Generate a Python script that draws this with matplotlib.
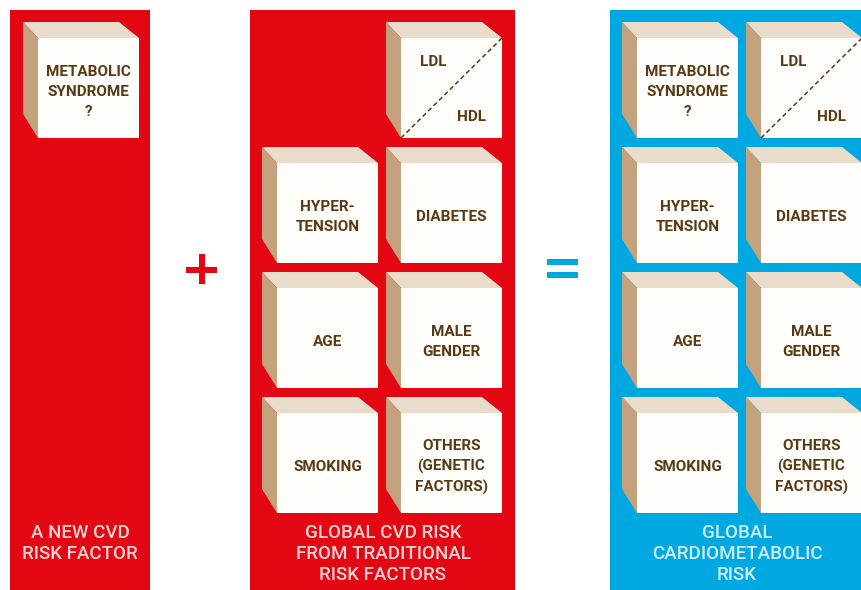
import matplotlib
matplotlib.use("Agg")
import matplotlib.pyplot as plt
from matplotlib.patches import Polygon, Rectangle

# Colours
RED = "#e30613"
BLUE = "#00a8e1"
TAN = "#c3a27d"
TOPFACE = "#eadccb"
FRONT = "#fffefb"
BROWN = "#5a3a14"
PINK_TXT = "#f8d4d2"
CYAN_TXT = "#cdeef9"

# Texts
panel1_cubes = ["METABOLIC\nSYNDROME\n?"]
panel2_cubes = ["LIPIDS", "HYPER-\nTENSION", "DIABETES", "AGE", "MALE\nGENDER",
                "SMOKING", "OTHERS\n(GENETIC\nFACTORS)"]
panel3_cubes = ["METABOLIC\nSYNDROME\n?", "LIPIDS", "HYPER-\nTENSION", "DIABETES",
                "AGE", "MALE\nGENDER", "SMOKING", "OTHERS\n(GENETIC\nFACTORS)"]
lipid_labels = ["LDL", "HDL"]
panel_captions = [["A NEW CVD", "RISK FACTOR"],
                  ["GLOBAL CVD RISK", "FROM TRADITIONAL", "RISK FACTORS"],
                  ["GLOBAL", "CARDIOMETABOLIC", "RISK"]]

W, H = 862, 590
fig = plt.figure(figsize=(W / 100, H / 100), dpi=100)
ax = fig.add_axes([0, 0, 1, 1])
ax.set_xlim(0, W)
ax.set_ylim(H, 0)
ax.axis("off")

FONT = "Roboto"


def cube(x0, y0, label, w=101, h=100, dx=15, dy=16):
    # x0, y0: top-left of the front face
    bx, by = x0 - dx, y0 - dy
    ax.add_patch(Polygon([(bx, by), (x0 + w - 20, by), (x0 + w, y0), (x0, y0)],
                         closed=True, fc=TOPFACE, ec="none", zorder=2))
    ax.add_patch(Polygon([(bx, by), (x0, y0), (x0, y0 + h), (bx, y0 + h - 24)],
                         closed=True, fc=TAN, ec="none", zorder=2))
    ax.add_patch(Rectangle((x0, y0), w, h, fc=FRONT, ec="none", zorder=3))
    if label == "LIPIDS":
        ax.plot([x0, x0 + w], [y0 + h, y0], ls=(0, (3, 2)), color=BROWN,
                lw=1.1, zorder=4)
        ax.text(x0 + 32, y0 + 24, lipid_labels[0], ha="center", va="center",
                fontsize=11, fontweight="bold", color=BROWN, family=FONT, zorder=5)
        ax.text(x0 + 71, y0 + 79, lipid_labels[1], ha="center", va="center",
                fontsize=11, fontweight="bold", color=BROWN, family=FONT, zorder=5)
    else:
        ax.text(x0 + w / 2, y0 + h / 2 + 4, label, ha="center", va="center",
                fontsize=11, fontweight="bold", color=BROWN, family=FONT,
                linespacing=1.5, zorder=5)


# Panels
ax.add_patch(Rectangle((10, 10), 140, 590, fc=RED, ec="none", zorder=1))
ax.add_patch(Rectangle((250, 10), 265, 590, fc=RED, ec="none", zorder=1))
ax.add_patch(Rectangle((610, 10), 262, 590, fc=BLUE, ec="none", zorder=1))

rows = [38, 163, 288, 413]

# panel 1
cube(38, rows[0], panel1_cubes[0])

# panel 2 (top-left slot empty)
cols2 = [277, 401]
slots2 = [(0, 1), (1, 0), (1, 1), (2, 0), (2, 1), (3, 0), (3, 1)]
for lab, (r, c) in zip(panel2_cubes, slots2):
    cube(cols2[c], rows[r], lab)

# panel 3
cols3 = [637, 761]
for i, lab in enumerate(panel3_cubes):
    cube(cols3[i % 2], rows[i // 2], lab)

# plus / equals
ax.add_patch(Rectangle((186, 267), 31, 6, fc=RED, ec="none"))
ax.add_patch(Rectangle((199, 254), 6, 30, fc=RED, ec="none"))
ax.add_patch(Rectangle((547, 259), 31, 6, fc=BLUE, ec="none"))
ax.add_patch(Rectangle((547, 272), 31, 6, fc=BLUE, ec="none"))

# captions
caps_x = [80, 383, 737]
caps_col = [PINK_TXT, PINK_TXT, CYAN_TXT]
for x, lines, col in zip(caps_x, panel_captions, caps_col):
    for i, t in enumerate(lines):
        ax.text(x, 533 + 21 * i, t, ha="center", va="center", fontsize=13.5,
                color=col, family=FONT, fontweight="medium", zorder=5)

fig.savefig("out.png", dpi=100)
